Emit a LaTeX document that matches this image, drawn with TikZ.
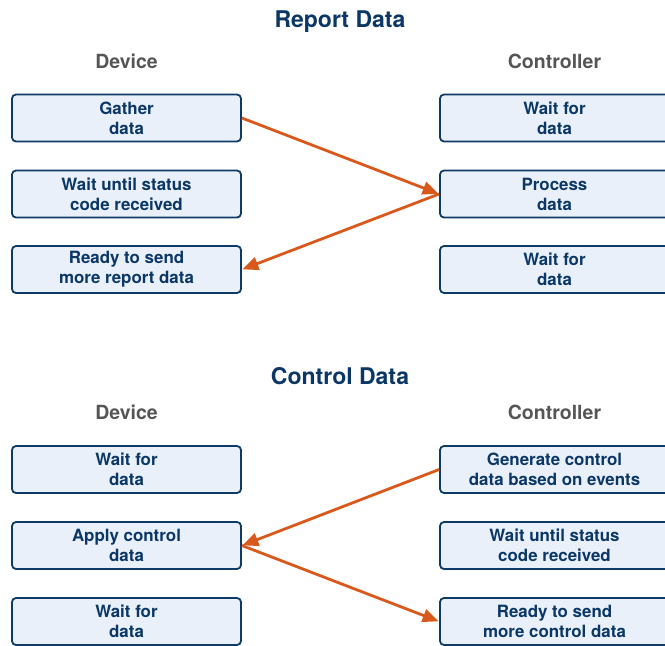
\documentclass[tikz,border=0pt]{standalone}
\usepackage{fontspec}
\setmainfont{TeX Gyre Heros}
\usetikzlibrary{arrows.meta}
\definecolor{boxfill}{HTML}{EAF0F9}
\definecolor{boxline}{HTML}{0D3A66}
\definecolor{textblue}{HTML}{0A3766}
\definecolor{headgray}{HTML}{555555}
\definecolor{flow}{HTML}{D9591C}
\tikzset{
  stepbox/.style={draw=boxline, fill=boxfill, line width=1.8pt, rounded corners=4pt,
    minimum width=229pt, minimum height=47pt, inner sep=0pt, align=center,
    text=textblue, font=\fontsize{16.9}{20}\selectfont\bfseries},
  title/.style={text=textblue, font=\fontsize{23}{26}\selectfont\bfseries},
  colhead/.style={text=headgray, font=\fontsize{19.5}{22}\selectfont\bfseries},
  flowarrow/.style={draw=flow, line width=2.8pt,
    -{Triangle[length=16pt,width=13pt]}, shorten >=0.5pt}
}
\begin{document}
\begin{tikzpicture}[x=1pt,y=-1pt]
\useasboundingbox (0,0) rectangle (665,646);
\clip (0,0) rectangle (665,646);

% Report data
\node[title] (t1) at (340,21.5) {Report Data};
\node[colhead] (d1) at (126.5,61.5) {Device};
\node[colhead] (c1) at (554.5,61.5) {Controller};
\node[stepbox] (a1) at (126.5,118) {Gather\\data};
\node[stepbox] (a2) at (126.5,194) {Wait until status\\code received};
\node[stepbox] (a3) at (126.5,269.5) {Ready to send\\more report data};
\node[stepbox] (b1) at (554.5,118) {Wait for\\data};
\node[stepbox] (b2) at (554.5,194) {Process\\data};
\node[stepbox] (b3) at (554.5,269.5) {Wait for\\data};
\draw[flowarrow] (a1.east) -- (b2.west);
\draw[flowarrow] (b2.west) -- (a3.east);

% Control data
\node[title] (t2) at (340,376.5) {Control Data};
\node[colhead] (d2) at (126.5,412.5) {Device};
\node[colhead] (c2) at (554.5,412.5) {Controller};
\node[stepbox] (e1) at (126.5,469.5) {Wait for\\data};
\node[stepbox] (e2) at (126.5,545.5) {Apply control\\data};
\node[stepbox] (e3) at (126.5,621.5) {Wait for\\data};
\node[stepbox] (f1) at (554.5,469.5) {Generate control\\data based on events};
\node[stepbox] (f2) at (554.5,545.5) {Wait until status\\code received};
\node[stepbox] (f3) at (554.5,621.5) {Ready to send\\more control data};
\draw[flowarrow] (f1.west) -- (e2.east);
\draw[flowarrow] (e2.east) -- (f3.west);
\end{tikzpicture}
\end{document}
